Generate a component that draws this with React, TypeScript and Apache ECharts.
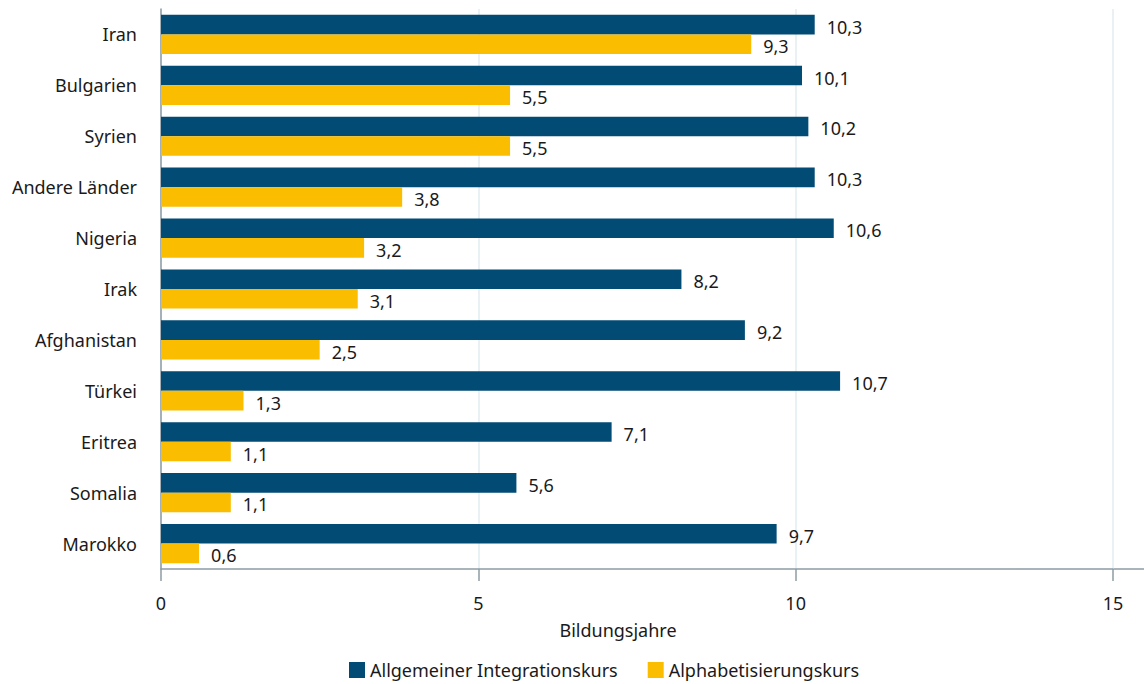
import React, { useEffect, useRef } from "react";
import * as echarts from "echarts";

const categories = [
  "Iran",
  "Bulgarien",
  "Syrien",
  "Andere Länder",
  "Nigeria",
  "Irak",
  "Afghanistan",
  "Türkei",
  "Eritrea",
  "Somalia",
  "Marokko",
];
const integrationskurs = [10.3, 10.1, 10.2, 10.3, 10.6, 8.2, 9.2, 10.7, 7.1, 5.6, 9.7];
const alphabetisierungskurs = [9.3, 5.5, 5.5, 3.8, 3.2, 3.1, 2.5, 1.3, 1.1, 1.1, 0.6];
const seriesNames = ["Allgemeiner Integrationskurs", "Alphabetisierungskurs"];
const axisName = "Bildungsjahre";

const FONT = "'Noto Sans', sans-serif";
const TXT = "#1a1a1a";
const FS = 18;

export default function App() {
  const ref = useRef<HTMLDivElement>(null);
  useEffect(() => {
    if (!ref.current) return;
    const chart = echarts.init(ref.current, null, { renderer: "svg" });
    const fmt = (p: any) => String(p.value).replace(".", ",");
    const label = {
      show: true,
      position: "right",
      distance: 12,
      offset: [0, 2],
      formatter: fmt,
      color: TXT,
      fontSize: FS,
      fontFamily: FONT,
    };
    chart.setOption({
      animation: false,
      textStyle: { fontFamily: FONT },
      grid: { left: 161, right: 31, top: 9, bottom: 115, containLabel: false },
      legend: {
        left: 349,
        top: 661,
        itemWidth: 16,
        itemHeight: 16,
        itemGap: 30,
        itemTextGap: 9,
        icon: "rect",
        padding: 0,
        textStyle: { fontSize: FS, color: TXT, fontFamily: FONT },
        data: seriesNames,
      },
      xAxis: {
        type: "value",
        min: 0,
        max: 15,
        interval: 5,
        name: axisName,
        nameLocation: "middle",
        nameGap: 52,
        nameTextStyle: { fontSize: FS, color: TXT, fontFamily: FONT, padding: [0, 38, 0, 0] },
        axisLine: { show: true, lineStyle: { color: "#8d9ba5", width: 1.5 } },
        axisTick: { show: true, length: 12, lineStyle: { color: "#8d9ba5", width: 1.5 } },
        axisLabel: { margin: 25, fontSize: FS, color: TXT, fontFamily: FONT },
        splitLine: { show: true, lineStyle: { color: "#e2edf0", width: 1.5 } },
      },
      yAxis: {
        type: "category",
        data: categories,
        inverse: true,
        axisLine: { show: true, lineStyle: { color: "#8d9ba5", width: 1.5 } },
        axisTick: { show: false },
        axisLabel: { margin: 24, fontSize: FS, color: TXT, fontFamily: FONT },
      },
      graphic: [
        {
          type: "line",
          shape: { x1: 1113, y1: 569, x2: 1144, y2: 569 },
          style: { stroke: "#8d9ba5", lineWidth: 1.5 },
          silent: true,
        },
      ],
      series: [
        {
          name: seriesNames[0],
          type: "bar",
          data: integrationskurs,
          itemStyle: { color: "#024b75" },
          barGap: "0%",
          barCategoryGap: "23%",
          label,
        },
        {
          name: seriesNames[1],
          type: "bar",
          data: alphabetisierungskurs,
          itemStyle: { color: "#fbbd00" },
          barGap: "0%",
          barCategoryGap: "23%",
          label,
        },
      ],
    });
    return () => chart.dispose();
  }, []);
  return <div ref={ref} style={{ width: 1144, height: 684, position: "absolute", left: 0, top: 0 }} />;
}
